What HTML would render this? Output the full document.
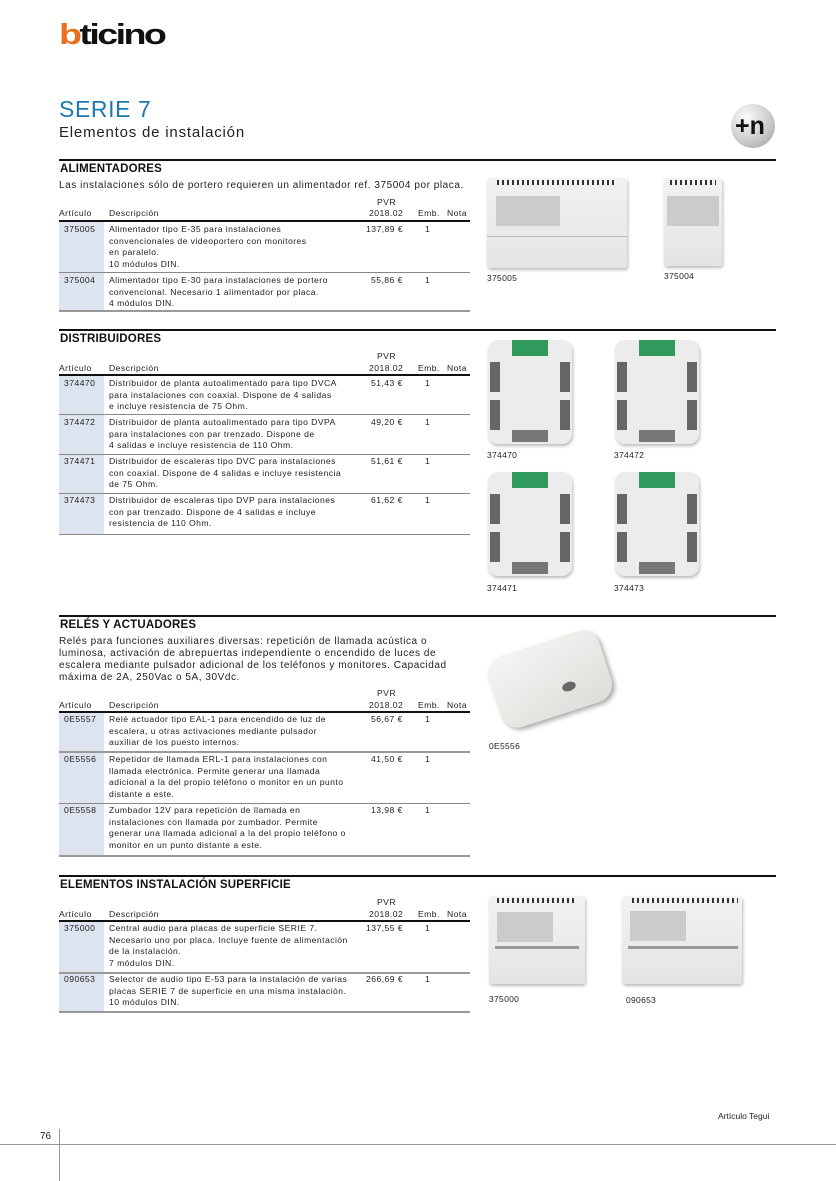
<!DOCTYPE html>
<html><head><meta charset="utf-8"><style>
body{margin:0;width:836px;height:1181px;position:relative;background:#fff;font-family:"Liberation Sans",sans-serif;color:#222;overflow:hidden}
.a{position:absolute;white-space:nowrap}
.rule{position:absolute;left:59px;width:717px;height:2px;background:#111}
.h{position:absolute;left:60px;font-weight:bold;font-size:11.5px;letter-spacing:0.2px;color:#111}
.t{position:absolute;font-size:8.6px;line-height:11.6px;white-space:nowrap;letter-spacing:0.45px}
.blue{position:absolute;left:59px;width:45px;background:#dde3ef}
.ln{position:absolute;left:59px;width:411px;height:1px;background:#888}
.thick{position:absolute;left:59px;width:411px;height:2px;background:#111}
.bot{position:absolute;left:59px;width:411px;height:2px;background:#999}
.img{position:absolute;background:linear-gradient(#f2f2f0,#e4e4e2);border-radius:3px;box-shadow:1px 2px 3px #bbb}
.lab{position:absolute;background:#c9cbcd}
.cap{position:absolute;font-size:8.5px;letter-spacing:0.3px}
.dist{position:absolute;width:84px;height:104px;background:#ececec;border-radius:10px;box-shadow:1px 2px 3px #bbb}
.dist .g{position:absolute;left:24px;top:0;width:36px;height:16px;background:#2f9a5c}
.dist .k{position:absolute;width:10px;height:30px;background:#666}
.dist .b{position:absolute;left:24px;bottom:2px;width:36px;height:12px;background:#777}
</style></head><body>

<div class="a" style="left:59px;top:18px;font-size:29px;font-weight:900;letter-spacing:-2px;line-height:34px;transform:scaleX(1.3);transform-origin:0 0"><span style="color:#e8701e">b</span><span style="color:#111">ticino</span></div>

<div class="a" style="left:59px;top:96px;font-size:23px;color:#1e78b4;letter-spacing:0.6px">SERIE 7</div>
<div class="a" style="left:59px;top:124px;font-size:15px;color:#222;letter-spacing:0.8px">Elementos de instalación</div>
<div class="a" style="left:731px;top:104px;width:44px;height:44px;border-radius:50%;background:radial-gradient(circle at 35% 30%,#fafafa,#c8c8c8 60%,#9a9a9a)"></div>
<div class="a" style="left:735px;top:108px;font-size:25px;font-weight:bold;color:#111;line-height:36px">+n</div>

<!-- Section 1 -->
<div class="rule" style="top:159px"></div>
<div class="h" style="top:163px">ALIMENTADORES</div>
<div class="a" style="left:59px;top:180px;font-size:10px;letter-spacing:0.55px">Las instalaciones sólo de portero requieren un alimentador ref. 375004 por placa.</div>
<div class="t" style="left:377px;top:197px">PVR</div>
<div class="t" style="left:59px;top:208px">Artículo</div><div class="t" style="left:109px;top:208px">Descripción</div><div class="t" style="left:369px;top:208px">2018.02</div><div class="t" style="left:418px;top:208px">Emb.</div><div class="t" style="left:447px;top:208px">Nota</div>
<div class="thick" style="top:220px"></div>
<div class="blue" style="top:222px;height:89px"></div>
<div class="t" style="left:64px;top:224px">375005</div>
<div class="t" style="left:109px;top:224px">Alimentador tipo E-35 para instalaciones<br>convencionales de videoportero con monitores<br>en paralelo.<br>10 módulos DIN.</div>
<div class="t" style="left:366px;top:224px">137,89 €</div><div class="t" style="left:425px;top:224px">1</div>
<div class="ln" style="top:272px"></div>
<div class="t" style="left:64px;top:275px">375004</div>
<div class="t" style="left:109px;top:275px">Alimentador tipo E-30 para instalaciones de portero<br>convencional. Necesario 1 alimentador por placa.<br>4 módulos DIN.</div>
<div class="t" style="left:371px;top:275px">55,86 €</div><div class="t" style="left:425px;top:275px">1</div>
<div class="bot" style="top:310px"></div>

<div class="img" style="left:487px;top:178px;width:140px;height:90px"></div>
<div class="lab" style="left:496px;top:196px;width:64px;height:30px"></div>
<div class="a" style="left:497px;top:180px;width:120px;height:5px;background:repeating-linear-gradient(90deg,#333 0 2px,transparent 2px 5px)"></div>
<div class="a" style="left:487px;top:236px;width:140px;height:1px;background:#bbb"></div>
<div class="cap" style="left:487px;top:273px">375005</div>
<div class="img" style="left:664px;top:178px;width:58px;height:88px"></div>
<div class="lab" style="left:667px;top:196px;width:52px;height:30px"></div>
<div class="a" style="left:670px;top:180px;width:46px;height:5px;background:repeating-linear-gradient(90deg,#333 0 2px,transparent 2px 5px)"></div>
<div class="cap" style="left:664px;top:271px">375004</div>

<!-- Section 2 -->
<div class="rule" style="top:329px"></div>
<div class="h" style="top:333px">DISTRIBUIDORES</div>
<div class="t" style="left:377px;top:351px">PVR</div>
<div class="t" style="left:59px;top:363px">Artículo</div><div class="t" style="left:109px;top:363px">Descripción</div><div class="t" style="left:369px;top:363px">2018.02</div><div class="t" style="left:418px;top:363px">Emb.</div><div class="t" style="left:447px;top:363px">Nota</div>
<div class="thick" style="top:374px"></div>
<div class="blue" style="top:376px;height:158px"></div>
<div class="t" style="left:64px;top:378px">374470</div>
<div class="t" style="left:109px;top:378px">Distribuidor de planta autoalimentado para tipo DVCA<br>para instalaciones con coaxial. Dispone de 4 salidas<br>e incluye resistencia de 75 Ohm.</div>
<div class="t" style="left:371px;top:378px">51,43 €</div><div class="t" style="left:425px;top:378px">1</div>
<div class="ln" style="top:414px"></div>
<div class="t" style="left:64px;top:417px">374472</div>
<div class="t" style="left:109px;top:417px">Distribuidor de planta autoalimentado para tipo DVPA<br>para instalaciones con par trenzado. Dispone de<br>4 salidas e incluye resistencia de 110 Ohm.</div>
<div class="t" style="left:371px;top:417px">49,20 €</div><div class="t" style="left:425px;top:417px">1</div>
<div class="ln" style="top:454px"></div>
<div class="t" style="left:64px;top:456px">374471</div>
<div class="t" style="left:109px;top:456px">Distribuidor de escaleras tipo DVC para instalaciones<br>con coaxial. Dispone de 4 salidas e incluye resistencia<br>de 75 Ohm.</div>
<div class="t" style="left:371px;top:456px">51,61 €</div><div class="t" style="left:425px;top:456px">1</div>
<div class="ln" style="top:493px"></div>
<div class="t" style="left:64px;top:495px">374473</div>
<div class="t" style="left:109px;top:495px">Distribuidor de escaleras tipo DVP para instalaciones<br>con par trenzado. Dispone de 4 salidas e incluye<br>resistencia de 110 Ohm.</div>
<div class="t" style="left:371px;top:495px">61,62 €</div><div class="t" style="left:425px;top:495px">1</div>
<div class="ln" style="top:534px"></div>

<div class="dist" style="left:488px;top:340px"><div class="g"></div><div class="k" style="left:2px;top:22px"></div><div class="k" style="right:2px;top:22px"></div><div class="k" style="left:2px;top:60px"></div><div class="k" style="right:2px;top:60px"></div><div class="b"></div></div>
<div class="dist" style="left:615px;top:340px"><div class="g"></div><div class="k" style="left:2px;top:22px"></div><div class="k" style="right:2px;top:22px"></div><div class="k" style="left:2px;top:60px"></div><div class="k" style="right:2px;top:60px"></div><div class="b"></div></div>
<div class="cap" style="left:487px;top:450px">374470</div><div class="cap" style="left:614px;top:450px">374472</div>
<div class="dist" style="left:488px;top:472px"><div class="g"></div><div class="k" style="left:2px;top:22px"></div><div class="k" style="right:2px;top:22px"></div><div class="k" style="left:2px;top:60px"></div><div class="k" style="right:2px;top:60px"></div><div class="b"></div></div>
<div class="dist" style="left:615px;top:472px"><div class="g"></div><div class="k" style="left:2px;top:22px"></div><div class="k" style="right:2px;top:22px"></div><div class="k" style="left:2px;top:60px"></div><div class="k" style="right:2px;top:60px"></div><div class="b"></div></div>
<div class="cap" style="left:487px;top:583px">374471</div><div class="cap" style="left:614px;top:583px">374473</div>

<!-- Section 3 -->
<div class="rule" style="top:615px"></div>
<div class="h" style="top:619px">RELÉS Y ACTUADORES</div>
<div class="a" style="left:59px;top:636px;font-size:10px;line-height:12px;letter-spacing:0.55px">Relés para funciones auxiliares diversas: repetición de llamada acústica o<br>luminosa, activación de abrepuertas independiente o encendido de luces de<br>escalera mediante pulsador adicional de los teléfonos y monitores. Capacidad<br>máxima de 2A, 250Vac o 5A, 30Vdc.</div>
<div class="t" style="left:377px;top:688px">PVR</div>
<div class="t" style="left:59px;top:700px">Artículo</div><div class="t" style="left:109px;top:700px">Descripción</div><div class="t" style="left:369px;top:700px">2018.02</div><div class="t" style="left:418px;top:700px">Emb.</div><div class="t" style="left:447px;top:700px">Nota</div>
<div class="thick" style="top:711px"></div>
<div class="blue" style="top:713px;height:143px"></div>
<div class="t" style="left:64px;top:714px">0E5557</div>
<div class="t" style="left:109px;top:714px">Relé actuador tipo EAL-1 para encendido de luz de<br>escalera, u otras activaciones mediante pulsador<br>auxiliar de los puesto internos.</div>
<div class="t" style="left:371px;top:714px">56,67 €</div><div class="t" style="left:425px;top:714px">1</div>
<div class="bot" style="top:751px"></div>
<div class="t" style="left:64px;top:754px">0E5556</div>
<div class="t" style="left:109px;top:754px">Repetidor de llamada ERL-1 para instalaciones con<br>llamada electrónica. Permite generar una llamada<br>adicional a la del propio teléfono o monitor en un punto<br>distante a este.</div>
<div class="t" style="left:371px;top:754px">41,50 €</div><div class="t" style="left:425px;top:754px">1</div>
<div class="ln" style="top:803px"></div>
<div class="t" style="left:64px;top:805px">0E5558</div>
<div class="t" style="left:109px;top:805px">Zumbador 12V para repetición de llamada en<br>instalaciones con llamada por zumbador. Permite<br>generar una llamada adicional a la del propio teléfono o<br>monitor en un punto distante a este.</div>
<div class="t" style="left:371px;top:805px">13,98 €</div><div class="t" style="left:425px;top:805px">1</div>
<div class="bot" style="top:855px"></div>

<div class="a" style="left:492px;top:642px;width:116px;height:74px;background:linear-gradient(160deg,#f6f6f4,#dcdcd8);border-radius:18px;transform:rotate(-18deg);box-shadow:2px 3px 5px #aaa"></div>
<div class="a" style="left:562px;top:682px;width:14px;height:9px;border-radius:50%;background:#666;transform:rotate(-20deg)"></div>
<div class="cap" style="left:489px;top:741px">0E5556</div>

<!-- Section 4 -->
<div class="rule" style="top:875px"></div>
<div class="h" style="top:879px">ELEMENTOS INSTALACIÓN SUPERFICIE</div>
<div class="t" style="left:377px;top:897px">PVR</div>
<div class="t" style="left:59px;top:909px">Artículo</div><div class="t" style="left:109px;top:909px">Descripción</div><div class="t" style="left:369px;top:909px">2018.02</div><div class="t" style="left:418px;top:909px">Emb.</div><div class="t" style="left:447px;top:909px">Nota</div>
<div class="thick" style="top:920px"></div>
<div class="blue" style="top:922px;height:90px"></div>
<div class="t" style="left:64px;top:923px">375000</div>
<div class="t" style="left:109px;top:923px">Central audio para placas de superficie SERIE 7.<br>Necesario uno por placa. Incluye fuente de alimentación<br>de la instalación.<br>7 módulos DIN.</div>
<div class="t" style="left:366px;top:923px">137,55 €</div><div class="t" style="left:425px;top:923px">1</div>
<div class="bot" style="top:972px"></div>
<div class="t" style="left:64px;top:974px">090653</div>
<div class="t" style="left:109px;top:974px">Selector de audio tipo E-53 para la instalación de varias<br>placas SERIE 7 de superficie en una misma instalación.<br>10 módulos DIN.</div>
<div class="t" style="left:366px;top:974px">266,69 €</div><div class="t" style="left:425px;top:974px">1</div>
<div class="bot" style="top:1011px"></div>

<div class="img" style="left:489px;top:896px;width:96px;height:88px"></div>
<div class="lab" style="left:497px;top:912px;width:56px;height:30px"></div>
<div class="a" style="left:497px;top:898px;width:80px;height:5px;background:repeating-linear-gradient(90deg,#333 0 2px,transparent 2px 5px)"></div>
<div class="a" style="left:495px;top:946px;width:84px;height:3px;background:#999"></div>
<div class="cap" style="left:489px;top:994px">375000</div>
<div class="img" style="left:622px;top:896px;width:120px;height:88px"></div>
<div class="lab" style="left:630px;top:911px;width:56px;height:30px"></div>
<div class="a" style="left:632px;top:898px;width:106px;height:5px;background:repeating-linear-gradient(90deg,#333 0 2px,transparent 2px 5px)"></div>
<div class="a" style="left:628px;top:946px;width:110px;height:3px;background:#999"></div>
<div class="cap" style="left:626px;top:995px">090653</div>

<!-- Footer -->
<div class="a" style="left:718px;top:1111px;font-size:8.5px">Artículo Tegui</div>
<div class="a" style="left:0;top:1144px;width:836px;height:1px;background:#999"></div>
<div class="a" style="left:59px;top:1129px;width:1px;height:52px;background:#999"></div>
<div class="a" style="left:40px;top:1131px;font-size:10px">76</div>
</body></html>
